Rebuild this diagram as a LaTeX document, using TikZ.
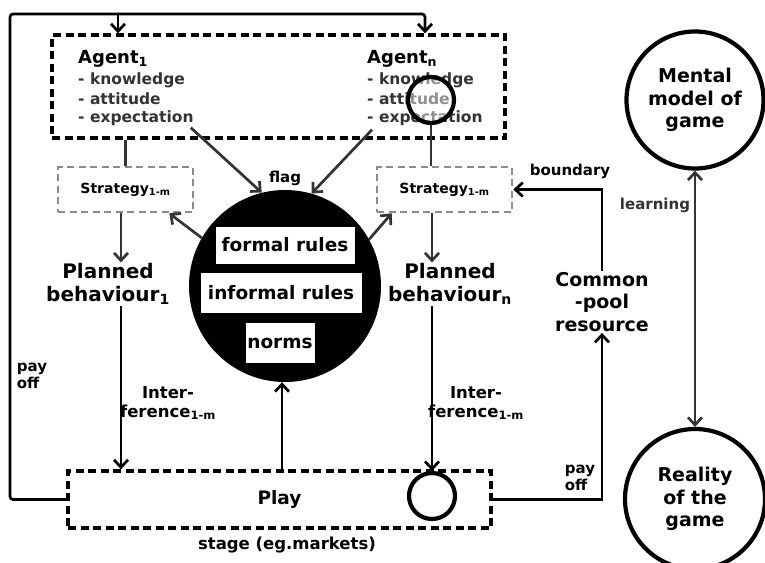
\documentclass[tikz,border=0pt]{standalone}
\usepackage{fontspec}
\setmainfont{DejaVu Sans}
\usetikzlibrary{arrows.meta,calc}
\definecolor{dk}{gray}{0.2}
\definecolor{lg}{gray}{0.55}
\tikzset{
  big/.style={font=\bfseries\fontsize{19}{22.5}\selectfont, align=center, inner sep=1pt},
  agtitle/.style={font=\bfseries\fontsize{18}{20}\selectfont, anchor=west, inner sep=0pt},
  item/.style={font=\bfseries\fontsize{15.5}{18}\selectfont, anchor=west, inner sep=0pt, text=dk},
  lab/.style={font=\bfseries\fontsize{15}{17.5}\selectfont, align=center, inner sep=1pt},
  mid/.style={font=\bfseries\fontsize{16.5}{19}\selectfont, align=center, inner sep=1pt},
  dbox/.style={draw, line width=3.4pt, dash pattern=on 8pt off 4.5pt, inner sep=0pt},
  sbox/.style={draw=lg, line width=2.6pt, dash pattern=on 7pt off 4.5pt, inner sep=0pt, font=\bfseries\fontsize{14}{16}\selectfont},
  wbox/.style={draw=black, fill=white, line width=0.8pt, inner sep=0pt, font=\bfseries\fontsize{18.5}{20}\selectfont},
  ring/.style={circle, draw, line width=4.2pt, inner sep=0pt},
  arr/.style={line width=2.7pt, -{Straight Barb[length=7.5pt,width=14pt]}},
  garr/.style={arr, draw=dk},
  gline/.style={line width=2.5pt, draw=dk}
}
\begin{document}
\begin{tikzpicture}[x=1pt,y=-1pt]
\useasboundingbox (0,0) rectangle (765,562);

% agents
\node[dbox, minimum width=453pt, minimum height=103pt] (agents) at (278.5,86.5) {};
\node[agtitle] (ag1) at (78,59) {Agent\textsubscript{1}};
\node[item] (k1) at (78,80) {- knowledge};
\node[item] (a1) at (78,99) {- attitude};
\node[item] (e1) at (78,118) {- expectation};
\node[agtitle] (agn) at (367,59) {Agent\textsubscript{n}};
\node[item] (kn) at (367,80) {- knowledge};
\node[item] (an) at (367,99) {- attitude};
\node[item] (en) at (367,118) {- expectation};
\node[ring, minimum size=46pt, fill=white, fill opacity=0.45] (mag) at (431,100) {};

% strategies
\node[sbox, minimum width=135pt, minimum height=45pt] (s1) at (125.5,189.5) {Strategy\textsubscript{1-m}};
\node[sbox, minimum width=135pt, minimum height=45pt] (sn) at (444.5,189.5) {Strategy\textsubscript{1-m}};

% planned behaviour
\node[big, font=\bfseries\fontsize{20}{22.5}\selectfont] (p1) at (108,284) {Planned\\behaviour\textsubscript{1}};
\node[big, font=\bfseries\fontsize{20}{22.5}\selectfont] (pn) at (450,284) {Planned\\behaviour\textsubscript{n}};

% rules circle
\node[circle, fill=black, minimum size=192pt, inner sep=0pt] (rules) at (285,286) {};
\node[wbox, minimum width=140pt, minimum height=38pt] (formal) at (285,245) {formal rules};
\node[wbox, minimum width=162pt, minimum height=41pt] (informal) at (281,293) {informal rules};
\node[wbox, minimum width=70pt, minimum height=41pt] (norms) at (280,343) {norms};

% play
\node[dbox, minimum width=423pt, minimum height=57pt, font=\bfseries\fontsize{18.5}{20}\selectfont] (play) at (279.5,499.5) {Play};
\node[ring, minimum size=46pt] (sc) at (432,496) {};
\node[mid] (stage) at (287,545) {stage (eg.markets)};

% common pool
\node[big] (common) at (602,302) {Common\\-pool\\resource};

% mental / reality
\node[ring, minimum size=137pt, big] (mental) at (695,100) {Mental\\model of\\game};
\node[ring, minimum size=140pt, big] (reality) at (695,499) {Reality\\of the\\game};

% labels
\node[lab] (flag) at (285,178) {flag};
\node[lab] (bound) at (570,171) {boundary};
\node[lab, text=dk] (learn) at (655,205) {learning};
\node[lab, align=left] (pay1) at (32,376) {pay\\off};
\node[lab, align=left] (pay2) at (580,478) {pay\\off};
\node[mid] (int1) at (168,403) {Inter-\\ference\textsubscript{1-m}};
\node[mid] (int2) at (476,403) {Inter-\\ference\textsubscript{1-m}};

% coordinates
\coordinate (tl) at (10,14);
\coordinate (tm) at (118,14);
\coordinate (tr) at (425,14);
\coordinate (x1) at (121,0);
\coordinate (xn) at (432,0);
\coordinate (xm) at (282,0);

% connectors
\draw[arr, rounded corners=3pt] (play.west) -| (tl) -- (tr) -- (agents.north -| tr);
\draw[arr] (tm) -- (agents.north -| tm);
\draw[gline] (agents.south -| s1.north) -- (s1.north);
\draw[gline] (mag.south) -- (mag.south |- sn.north);
\draw[garr] (s1.south -| x1) -- (p1.north -| x1);
\draw[garr] (sn.south -| xn) -- (pn.north -| xn);
\draw[arr] (p1.south -| x1) -- (play.north -| x1);
\draw[arr] (pn.south -| xn) -- (sc.north);
\draw[arr] (play.north -| xm) -- (rules.south -| xm);
\draw[garr] ($(e1.south east)+(-3,2)$) -- (rules.104);
\draw[garr] ($(en.south west)+(5,4)$) -- (rules.74);
\draw[garr] (rules.150) -- ($(s1.south east)+(-25,0)$);
\draw[garr] (rules.29) -- ($(sn.south west)+(16,0)$);
\draw[arr] (common.north) |- (sn.east);
\draw[arr] (play.east) -| (common.south);
\draw[garr, {Straight Barb[length=7.5pt,width=14pt]}-{Straight Barb[length=7.5pt,width=14pt]}] (mental.south) -- (reality.north);
\end{tikzpicture}
\end{document}
